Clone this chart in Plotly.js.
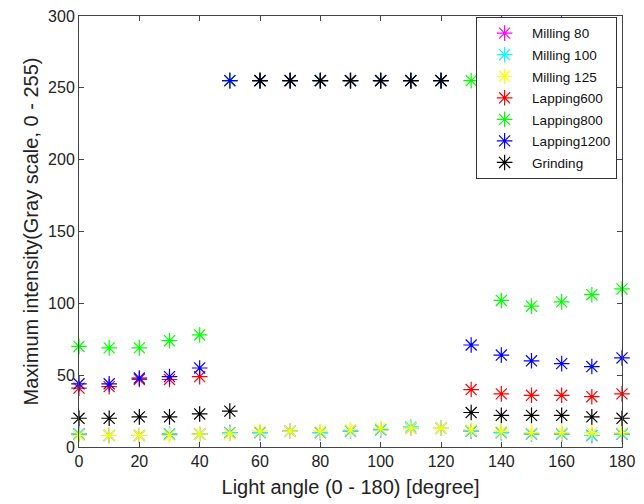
<!DOCTYPE html>
<html>
<head>
<meta charset="utf-8">
<script src="https://cdn.plot.ly/plotly-3.0.1.min.js"></script>
<style>html,body{margin:0;padding:0;background:#fff;}#chart{width:644px;height:504px;}</style>
</head>
<body>
<div id="chart"></div>
<script>
var angles = [0,10,20,30,40,50,60,70,80,90,100,110,120,130,140,150,160,170,180];
var milling80   = [9,8,8,9,9,10,10,11,10,11,12,13,13,11,10,9,9,8,9];
var milling100  = [9,8,8,9,9,10,10,11,10,11,12,14,13,11,10,9,9,8,9];
var milling125  = [8,8,8,8,9,9,11,11,11,12,13,13,13,12,11,10,10,10,10];
var lapping600  = [41,42,47,47,49,255,255,255,255,255,255,255,255,40,37,36,36,35,37];
var lapping800  = [70,69,69,74,78,255,255,255,255,255,255,255,255,255,102,98,101,106,110];
var lapping1200 = [44,44,48,49,55,255,255,255,255,255,255,255,255,71,64,60,58,56,62];
var grinding    = [20,20,21,21,23,25,255,255,255,255,255,255,255,24,22,22,22,21,20];

var seriesNames = ['Milling 80','Milling 100','Milling 125','Lapping600','Lapping800','Lapping1200','Grinding'];
var seriesData = [milling80, milling100, milling125, lapping600, lapping800, lapping1200, grinding];
var seriesColors = ['#ff00ff','#00ffff','#ffff00','#ff0000','#00ff00','#0000ff','#000000'];

var traces = seriesNames.map(function(n,i){
  return {
    x: angles, y: seriesData[i], name: n, type: 'scatter', mode: 'markers',
    legendgroup: 'g'+i,
    marker: {symbol: 'asterisk-open', size: 13, color: seriesColors[i],
             line: {color: seriesColors[i], width: 1.2}},
    cliponaxis: false
  };
});

var axisCommon = {
  showgrid: false, zeroline: false, showline: true, mirror: 'ticks',
  linecolor: '#444', linewidth: 1, ticks: 'inside', ticklen: 5, tickcolor: '#444',
  tickfont: {family: 'Arial, Liberation Sans, sans-serif', size: 16, color: '#222'}
};

var layout = {
  width: 644, height: 504,
  margin: {l: 79, r: 22, t: 16, b: 57},
  paper_bgcolor: '#fff', plot_bgcolor: '#fff',
  showlegend: true,
  xaxis: Object.assign({}, axisCommon, {
    range: [0, 180], tickvals: [0,20,40,60,80,100,120,140,160,180],
    title: {text: 'Light angle (0 - 180) [degree]', standoff: 10,
            font: {family: 'Arial, Liberation Sans, sans-serif', size: 20, color: '#222'}}
  }),
  yaxis: Object.assign({}, axisCommon, {
    range: [0, 300], tickvals: [0,50,100,150,200,250,300],
    title: {text: 'Maximum intensity(Gray scale, 0 - 255)', standoff: 4,
            font: {family: 'Arial, Liberation Sans, sans-serif', size: 20, color: '#222'}}
  }),
  legend: {
    x: 0.991, y: 0.998, xanchor: 'right', yanchor: 'top',
    bgcolor: '#fff', bordercolor: '#333', borderwidth: 1,
    traceorder: 'grouped', tracegroupgap: 1, itemwidth: 45,
    font: {family: 'Arial, Liberation Sans, sans-serif', size: 13.5, color: '#111'}
  }
};

Plotly.newPlot('chart', traces, layout, {displayModeBar: false, staticPlot: true});
</script>
</body>
</html>
